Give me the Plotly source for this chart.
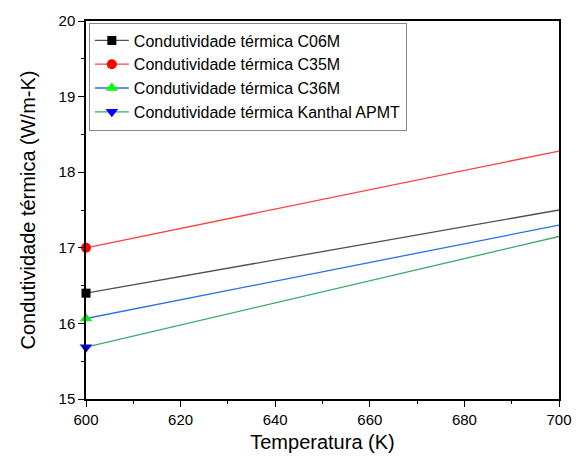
import plotly.graph_objects as go

temperature = [600, 700]
c06m = [16.40, 17.50]
c35m = [17.00, 18.28]
c36m = [16.065, 17.30]
kanthal = [15.685, 17.15]

names = ["Condutividade térmica C06M", "Condutividade térmica C35M",
         "Condutividade térmica C36M", "Condutividade térmica Kanthal APMT"]
series = [c06m, c35m, c36m, kanthal]
line_colors = ["#505050", "#ff4040", "#2a6fe8", "#3aaa6a"]
marker_colors = ["#000000", "#ff0000", "#00ff00", "#0000ff"]
symbols = ["square", "circle", "triangle-up", "triangle-down"]
sizes = [9, 10, 11, 11]

fig = go.Figure()
for i, (n, ys, lc, mc, sym, sz) in enumerate(zip(names, series, line_colors, marker_colors, symbols, sizes)):
    fig.add_trace(go.Scatter(
        x=temperature, y=ys, name=n, mode="lines", legendgroup=str(i),
        line=dict(color=lc, width=1.3), showlegend=False,
    ))
    fig.add_trace(go.Scatter(
        x=temperature[:1], y=ys[:1], name=n, mode="lines+markers", legendgroup=str(i),
        line=dict(color=lc, width=1.3),
        marker=dict(color=mc, symbol=sym, size=sz, line=dict(width=0)),
        cliponaxis=False, showlegend=True,
    ))

font = "Liberation Sans, Arial, sans-serif"
fig.update_layout(
    width=584, height=462,
    margin=dict(l=86, r=22, t=17, b=61),
    paper_bgcolor="white", plot_bgcolor="white",
    font=dict(family=font, color="black", size=15),
    showlegend=True,
    legend=dict(x=0.006, y=0.996, xanchor="left", yanchor="top",
                bgcolor="white", bordercolor="#888888", borderwidth=1,
                font=dict(size=16, family=font), tracegroupgap=0,
                itemwidth=34),
    xaxis=dict(
        range=[600, 700], tickvals=[600, 620, 640, 660, 680, 700],
        ticks="outside", ticklen=6, tickwidth=1.2, tickcolor="black",
        minor=dict(dtick=10, ticks="outside", ticklen=3, tickcolor="black"),
        showline=True, linecolor="black", linewidth=1.5, mirror=True,
        showgrid=False, zeroline=False,
        tickfont=dict(size=15, family=font),
        title=dict(text="Temperatura (K)", font=dict(size=20, family=font), standoff=8),
    ),
    yaxis=dict(
        range=[15, 20], tickvals=[15, 16, 17, 18, 19, 20],
        ticks="outside", ticklen=6, tickwidth=1.2, tickcolor="black",
        minor=dict(dtick=0.5, ticks="outside", ticklen=3, tickcolor="black"),
        showline=True, linecolor="black", linewidth=1.5, mirror=True,
        showgrid=False, zeroline=False,
        tickfont=dict(size=15, family=font),
        title=dict(text="Condutividade térmica (W/m-K)", font=dict(size=20, family=font), standoff=18),
    ),
)

fig.write_html("out.html")
